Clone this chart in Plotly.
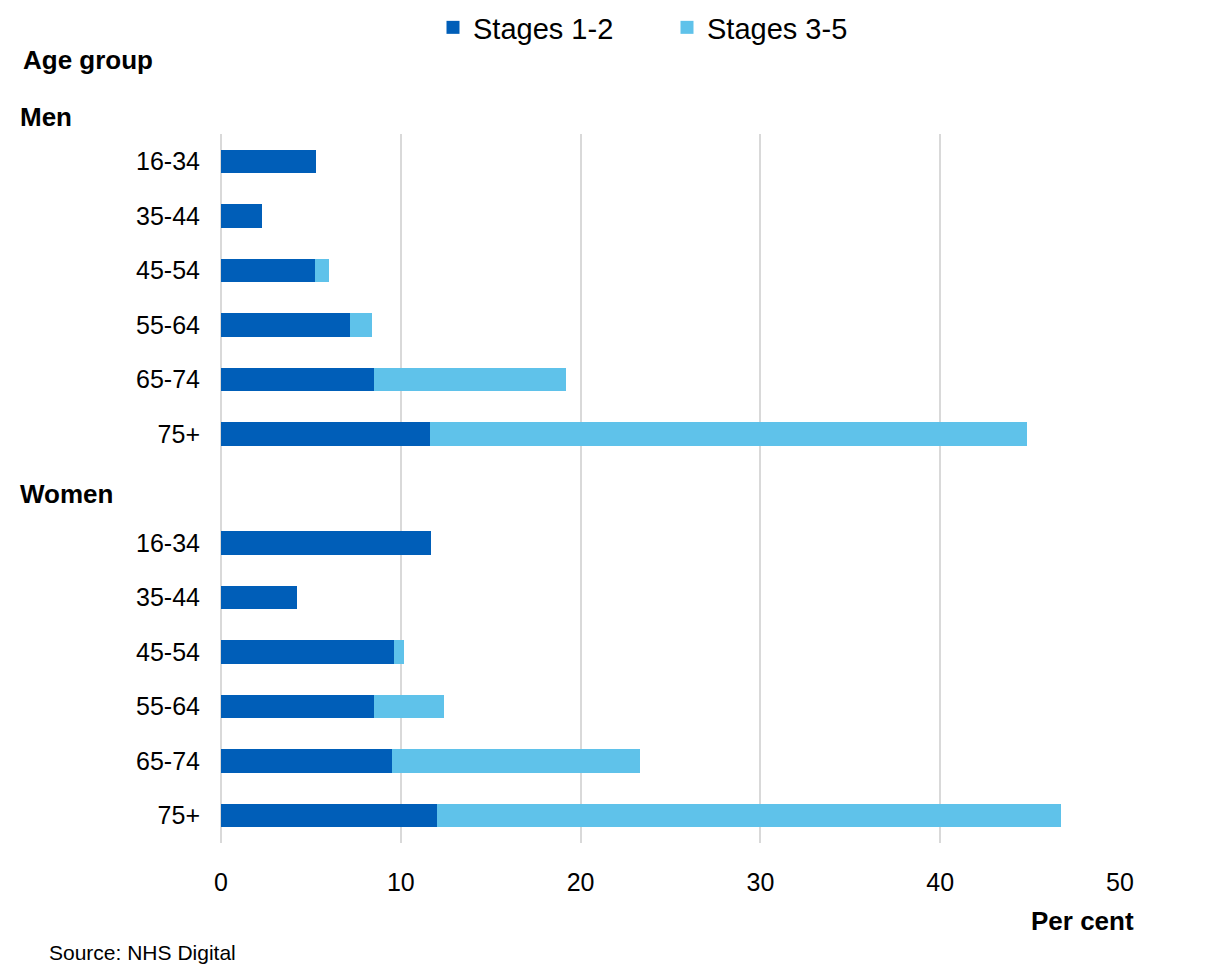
import plotly.graph_objects as go

# Data (per cent)
age_groups = ["16-34", "35-44", "45-54", "55-64", "65-74", "75+"]
men_stage12 = [5.3, 2.3, 5.2, 7.2, 8.5, 11.6]
men_stage35 = [0.0, 0.0, 0.8, 1.2, 10.7, 33.2]
women_stage12 = [11.7, 4.2, 9.6, 8.5, 9.5, 12.0]
women_stage35 = [0.0, 0.0, 0.6, 3.9, 13.8, 34.7]
x_ticks = [0, 10, 20, 30, 40, 50]
series_names = ["Stages 1-2", "Stages 3-5"]

DARK = "#005EB8"
LIGHT = "#5FC2EA"
FONT = "Liberation Sans, Arial, sans-serif"

# category keys (unique) with a blank spacer between the two groups
men_keys = ["Men " + a for a in age_groups]
women_keys = ["Women " + a for a in age_groups]
spacer = ["spacer"]
cat_order = men_keys + spacer + women_keys
tick_text = age_groups + [""] + age_groups

y_all = men_keys + women_keys
s12 = men_stage12 + women_stage12
s35 = men_stage35 + women_stage35

fig = go.Figure()
for name, vals, col in [(series_names[0], s12, DARK), (series_names[1], s35, LIGHT)]:
    fig.add_trace(go.Bar(
        y=y_all, x=vals, orientation="h", name=name,
        marker=dict(color=col, line=dict(width=0)), width=0.43,
        showlegend=False,
    ))
# legend entries with larger square keys
for name, col in [(series_names[0], DARK), (series_names[1], LIGHT)]:
    fig.add_trace(go.Scatter(
        x=[None], y=[None], mode="markers", name=name,
        marker=dict(symbol="square", size=13, color=col),
        showlegend=True, hoverinfo="skip",
    ))

OFF = 8  # page offset of the figure
W, H = 1212, 967
L, R, T, B = 221 - OFF, 1212 - 1120 + OFF, 134 - OFF, 967 - 843 + OFF
pw = W - L - R
ph = H - T - B

def px(x):
    return (x - OFF - L) / pw

def py(y):
    return (H - B - (y - OFF)) / ph

fig.update_layout(
    width=W, height=H,
    barmode="stack",
    plot_bgcolor="white", paper_bgcolor="white",
    margin=dict(l=L, r=R, t=T, b=B, autoexpand=False),
    font=dict(family=FONT, color="black", size=25),
    legend=dict(
        orientation="h", x=px(433), xanchor="left", y=py(2), yanchor="top",
        font=dict(size=29, family=FONT), traceorder="normal",
        entrywidth=189, entrywidthmode="pixels", itemwidth=30,
        bgcolor="rgba(0,0,0,0)",
    ),
    xaxis=dict(
        range=[0, 50], tickvals=x_ticks, ticktext=[str(v) for v in x_ticks],
        showgrid=True, gridcolor="#D9D9D9", gridwidth=2,
        zeroline=True, zerolinecolor="#D9D9D9", zerolinewidth=2,
        showline=False,
        tickfont=dict(size=25, family=FONT), ticks="",
        ticklabelstandoff=22,
    ),
    yaxis=dict(
        type="category", categoryorder="array", categoryarray=cat_order,
        tickvals=cat_order, ticktext=tick_text,
        autorange="reversed", showgrid=False, zeroline=False, showline=False,
        tickfont=dict(size=25, family=FONT), ticks="",
        ticklabelstandoff=20,
    ),
    showlegend=True,
)

annos = [
    dict(text="<b>Age group</b>", x=px(21), y=py(60), xanchor="left", size=26),
    dict(text="<b>Men</b>", x=px(18), y=py(117), xanchor="left", size=26),
    dict(text="<b>Women</b>", x=px(18), y=py(494), xanchor="left", size=26),
    dict(text="<b>Per cent</b>", x=px(1136), y=py(921), xanchor="right", size=26),
    dict(text="Source: NHS Digital", x=px(47), y=py(952), xanchor="left", size=21),
]
for a in annos:
    fig.add_annotation(
        text=a["text"], x=a["x"], y=a["y"], xref="paper", yref="paper",
        xanchor=a["xanchor"], yanchor="middle", showarrow=False,
        font=dict(size=a["size"], family=FONT, color="black"),
    )

fig.write_html("out.html")
